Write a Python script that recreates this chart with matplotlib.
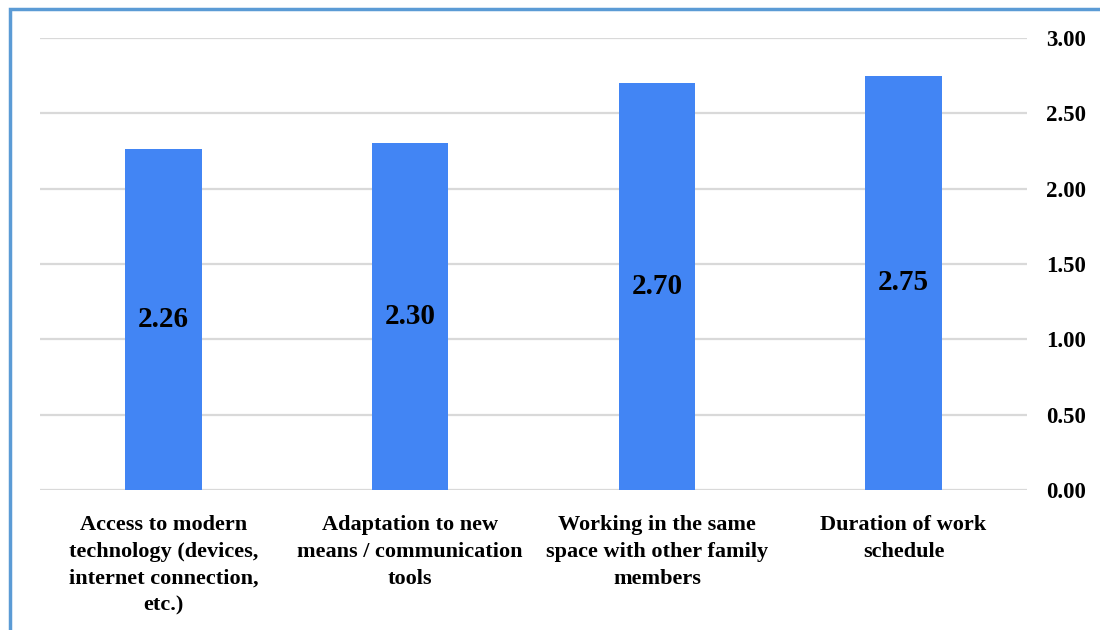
import matplotlib.pyplot as plt
from matplotlib.patches import Rectangle

categories = [
    "Access to modern\ntechnology (devices,\ninternet connection,\netc.)",
    "Adaptation to new\nmeans / communication\ntools",
    "Working in the same\nspace with other family\nmembers",
    "Duration of work\nschedule",
]
values = [2.26, 2.30, 2.70, 2.75]
yticks = [0.0, 0.5, 1.0, 1.5, 2.0, 2.5, 3.0]

plt.rcParams['font.family'] = ['Liberation Serif', 'DejaVu Serif']
plt.rcParams['font.weight'] = 'bold'

fig = plt.figure(figsize=(11, 6.3), dpi=100)
ax = fig.add_axes([0.0364, 0.2222, 0.8972, 0.7175])

x = range(len(values))
bars = ax.bar(x, values, width=0.31, color='#4285F4', zorder=3)

for b, v in zip(bars, values):
    ax.text(b.get_x() + b.get_width() / 2, v / 2, f"{v:.2f}",
            ha='center', va='center', fontsize=21, fontweight='bold', zorder=4)

ax.set_xlim(-0.5, len(values) - 0.5)
ax.set_ylim(0, 3.0)
ax.set_yticks(yticks)
ax.set_yticklabels([f"{t:.2f}" for t in yticks], fontsize=16.5, fontweight='bold')
ax.yaxis.tick_right()
ax.tick_params(axis='y', length=0, pad=14)
ax.set_xticks(list(x))
ax.set_xticklabels(categories, fontsize=16, fontweight='bold', linespacing=1.45)
ax.tick_params(axis='x', length=0, pad=18)

ax.grid(axis='y', color='#d9d9d9', linewidth=1.6, zorder=0)
for s in ax.spines.values():
    s.set_visible(False)

# blue frame of the chart area (cropped at right and bottom)
fig.patches.append(Rectangle((10 / 1100, -0.05), 1.2, (630 - 9) / 630 + 0.05,
                             transform=fig.transFigure, fill=False,
                             edgecolor='#5B9BD5', linewidth=2.5))

fig.savefig("out.png", dpi=100)
